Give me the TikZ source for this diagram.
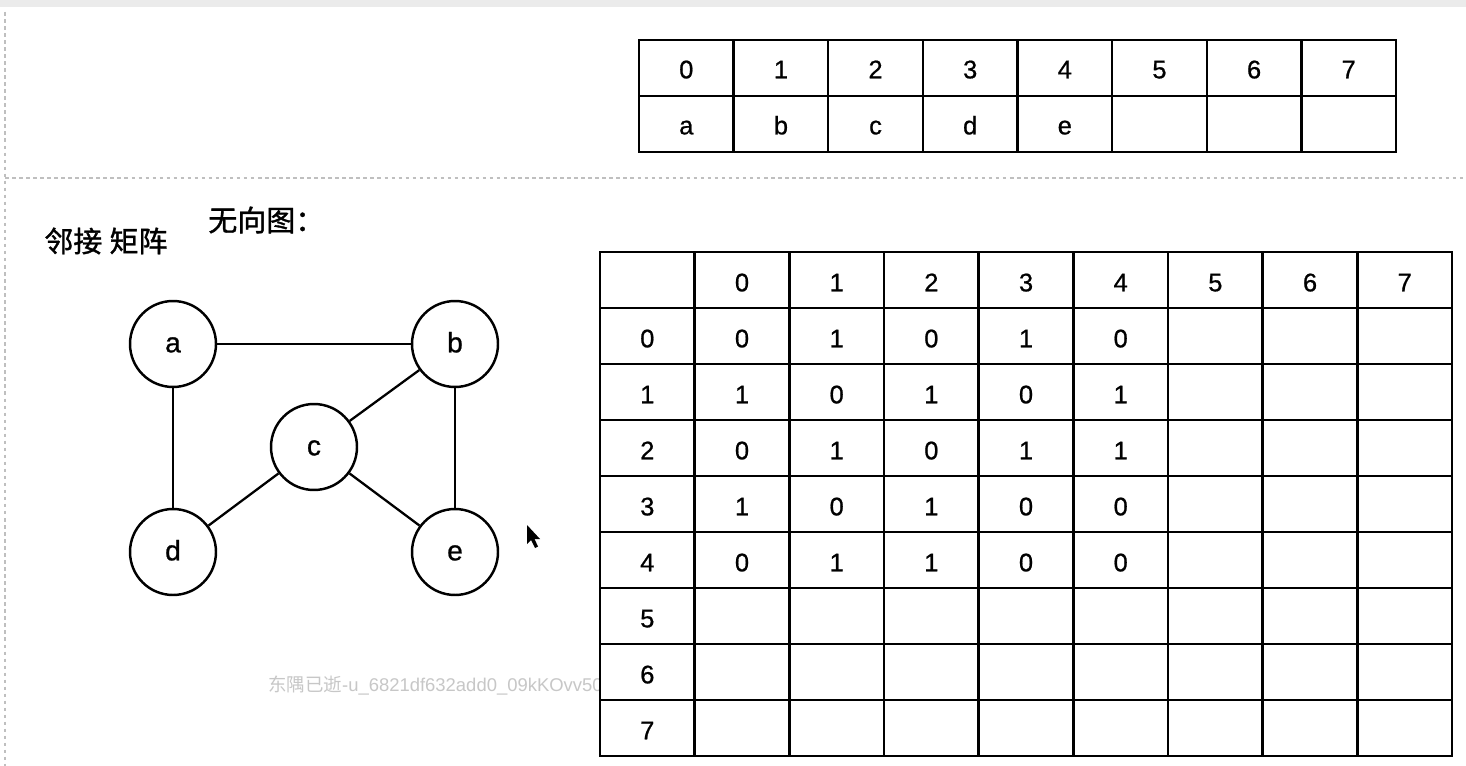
\documentclass[tikz,border=0pt]{standalone}
\usepackage{fontspec}
\setmainfont{Liberation Sans}[FakeBold=0.8]
\newfontfamily\cjk{Noto Sans CJK SC}[FakeBold=1.2]
\newfontfamily\cjkthin{Noto Sans CJK SC}
\usetikzlibrary{positioning}

\begin{document}
\begin{tikzpicture}[x=0.02cm, y=0.02cm]
\tikzstyle{every node}+=[inner sep=0pt]
\tikzstyle{vertex}=[draw=black, line width=1.4pt, circle, minimum size=1.72cm, text height=0.95em, text depth=0pt, font=\fontsize{16}{16}\selectfont]
\tikzstyle{cell}=[text height=0.95em, text depth=0pt, font=\fontsize{14.5}{14.5}\selectfont]
\tikzstyle{grid}=[black, line width=1.4pt]
\tikzstyle{sep}=[black!25, line width=0.8pt, dash pattern=on 2pt off 2pt]
\tikzstyle{heading}=[anchor=west, font=\cjk\fontsize{16.5}{16.5}\selectfont]
% page and separators
\fill [white] (0,0) rectangle (1466,-766);
\useasboundingbox (0,0) rectangle (1466,-766);
\fill [black!8] (0,0) rectangle (1466,-7);
\draw [sep] (5,-12) -- (5,-766);
\draw [sep] (5,-178) -- (1466,-178);
% array of vertices
\draw [grid] (639,-40) rectangle (1396,-152);
\draw [grid] (639,-96) -- (1396,-96);
\foreach \i in {1,...,7} \draw [grid] (639+94.625*\i,-40) -- (639+94.625*\i,-152);
\foreach \i in {0,...,7} \node [cell] (idx\i) at (686.3+94.625*\i,-70) {\i};
\foreach \i/\l in {0/a,1/b,2/c,3/d,4/e} \node [cell] (arr\i) at (686.3+94.625*\i,-126) {\l};
% headings
\node [heading] (title) at (44,-241) {邻接\hspace{0.25em}矩阵};
\node [heading] (kind) at (208,-220) {无向图：};
\node [font=\fontsize{10.5}{10.5}\selectfont, text=black!22, anchor=west] (mark) at (268,-686) {{\cjkthin 东隅已逝}\addfontfeature{FakeBold=0}-u\_6821df632add0\_09kKOvv501};
% graph
\node [vertex] (a) at (173,-344) {a};
\node [vertex] (b) at (455,-344) {b};
\node [vertex] (c) at (314,-447) {c};
\node [vertex] (d) at (173,-552) {d};
\node [vertex] (e) at (455,-552) {e};
\draw [black, line width=1.3pt] (a) -- (b);
\draw [black, line width=1.3pt] (a) -- (d);
\draw [black, line width=1.3pt] (b) -- (c);
\draw [black, line width=1.3pt] (b) -- (e);
\draw [black, line width=1.3pt] (c) -- (d);
\draw [black, line width=1.3pt] (c) -- (e);
% pointer
\fill [black] (527,-525) -- (527,-544) -- (531,-540) -- (535,-548) -- (538,-546.5) -- (534.5,-539) -- (540,-539) -- cycle;
% adjacency matrix
\fill [white] (600,-252) rectangle (1452,-756);
\draw [grid] (600,-252) rectangle (1452,-756);
\foreach \i in {1,...,8} \draw [grid] (600+94.67*\i,-252) -- (600+94.67*\i,-756);
\foreach \i in {1,...,8} \draw [grid] (600,-252-56*\i) -- (1452,-252-56*\i);
\foreach \i in {0,...,7} \node [cell] (col\i) at (742+94.67*\i,-283) {\i};
\foreach \i in {0,...,7} \node [cell] (row\i) at (647.3,-339-56*\i) {\i};
\foreach \r/\vals in {0/{0,1,0,1,0},1/{1,0,1,0,1},2/{0,1,0,1,1},3/{1,0,1,0,0},4/{0,1,1,0,0}}
  \foreach \v [count=\c from 0] in \vals
    \node [cell] (m\r\c) at (742+94.67*\c,-339-56*\r) {\v};
\end{tikzpicture}
\end{document}
